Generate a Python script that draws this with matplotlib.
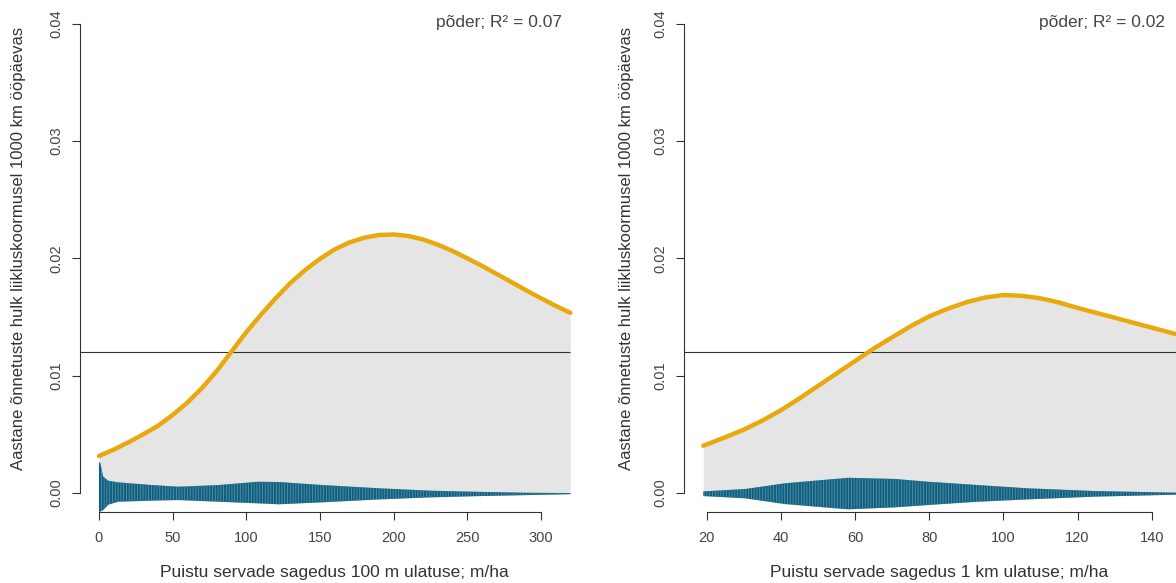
import numpy as np
import matplotlib
matplotlib.use("Agg")
import matplotlib.pyplot as plt

plt.rcParams['font.family'] = ['Liberation Sans', 'DejaVu Sans']
plt.rcParams['hatch.linewidth'] = 0.6

# --- data ---
# left panel: 100 m buffer
x_curve_a = [0, 10, 20, 30, 40, 50, 60, 70, 80, 90, 100, 110, 120, 130, 140,
             150, 160, 170, 180, 190, 200, 210, 220, 230, 240, 250, 260, 270,
             280, 290, 300, 310, 320]
y_curve_a = [0.00315, 0.00370, 0.00432, 0.00500, 0.00572, 0.00665, 0.00770,
             0.00895, 0.01040, 0.01205, 0.01370, 0.01520, 0.01660, 0.01790,
             0.01900, 0.01995, 0.02075, 0.02135, 0.02175, 0.02198, 0.02203,
             0.02190, 0.02160, 0.02116, 0.02062, 0.02000, 0.01935, 0.01866,
             0.01797, 0.01727, 0.01660, 0.01595, 0.01535]
x_band_a = [0, 0.8, 2.9, 6.3, 13, 36, 54, 81, 108, 122, 152, 191, 225, 259,
            293, 320]
hi_band_a = [0.0026, 0.0026, 0.0014, 0.00105, 0.00091, 0.00068, 0.00054,
             0.00068, 0.00096, 0.00094, 0.00068, 0.0004, 0.0002, 0.0001,
             0.00002, 0.0]
lo_band_a = [-0.0016, -0.0016, -0.00145, -0.0010, -0.00074, -0.00065,
             -0.0006, -0.00074, -0.00088, -0.00096, -0.00079, -0.00054,
             -0.00037, -0.00026, -0.00017, -0.0001]

# right panel: 1 km buffer
x_curve_b = [19.1, 25, 30, 35, 40, 45, 50, 55, 60, 65, 70, 75, 80, 85, 90,
             95, 100, 105, 110, 115, 120, 125, 130, 135, 140, 145, 147]
y_curve_b = [0.00403, 0.00475, 0.00540, 0.00617, 0.00705, 0.00805, 0.00912,
             0.01018, 0.01124, 0.01230, 0.01326, 0.01421, 0.01505, 0.01570,
             0.01625, 0.01665, 0.01687, 0.01680, 0.01659, 0.01623, 0.01577,
             0.01535, 0.01494, 0.01451, 0.01409, 0.01367, 0.01350]
x_band_b = [19.1, 30.3, 41.1, 58.2, 70.8, 79.8, 93.2, 106.7, 124.7, 147]
hi_band_b = [0.00014, 0.00034, 0.00083, 0.0013, 0.0012, 0.00096, 0.00068,
             0.0004, 0.00017, 0.00003]
lo_band_b = [-0.00026, -0.00045, -0.00094, -0.00139, -0.00122, -0.00102,
             -0.00074, -0.00054, -0.00031, -0.00014]

ref_level = 0.012
r2_labels = ['põder; R² = 0.07', 'põder; R² = 0.02']
xlabels = ['Puistu servade sagedus 100 m ulatuse; m/ha',
           'Puistu servade sagedus 1 km ulatuse; m/ha']
ylabel = 'Aastane õnnetuste hulk liikluskoormusel 1000 km ööpäevas'
xticks_a = [0, 50, 100, 150, 200, 250, 300]
xticks_b = [20, 40, 60, 80, 100, 120, 140]
yticks = [0.00, 0.01, 0.02, 0.03, 0.04]

ORANGE = '#E9A90E'
BLUE = '#0D5F7F'
STRIPE = '#5A90A6'
GRAY = '#E5E5E5'
INK = '#333333'

fig = plt.figure(figsize=(11.76, 5.83), dpi=100)
ax1 = fig.add_axes([80.1 / 1176, 0.1221, 509.1 / 1176, 0.8698])
ax2 = fig.add_axes([684.4 / 1176, 0.1221, 511.8 / 1176, 0.8698])

panels = [
    (ax1, x_curve_a, y_curve_a, x_band_a, hi_band_a, lo_band_a, xticks_a, (-12.8, 332.8)),
    (ax2, x_curve_b, y_curve_b, x_band_b, hi_band_b, lo_band_b, xticks_b, (14.0, 152.0)),
]

for ax, xc, yc, xb, hb, lb, xt, xl in panels:
    ax.fill_between(xc, 0, yc, color=GRAY, lw=0, zorder=1)
    ax.fill_between(xb, lb, hb, facecolor=BLUE, edgecolor=STRIPE,
                    hatch='|' * 6, lw=0, zorder=2)
    ax.hlines(ref_level, xl[0], max(xc), color='#333333', lw=0.8, zorder=3)
    ax.plot(xc, yc, color=ORANGE, lw=3.2, solid_capstyle='round',
            solid_joinstyle='round', zorder=4)
    ax.set_xlim(*xl)
    ax.set_ylim(-0.0016, 0.0416)
    ax.set_xticks(xt)
    ax.set_yticks(yticks)
    ax.set_yticklabels([f'{v:.2f}' for v in yticks], rotation=90, va='center')
    for s in ['top', 'right']:
        ax.spines[s].set_visible(False)
    ax.spines['left'].set_bounds(0, 0.04)
    ax.spines['bottom'].set_bounds(xt[0], xt[-1])
    for s in ['left', 'bottom']:
        ax.spines[s].set_color(INK)
        ax.spines[s].set_linewidth(0.8)
    ax.tick_params(axis='both', direction='out', length=6, width=0.8,
                   color=INK, labelcolor='#444444', labelsize=10.5)
    ax.tick_params(axis='x', pad=8)
    ax.tick_params(axis='y', pad=6)
    ax.set_facecolor('none')

# texts placed like the R output
fig.text(334 / 1176, 1 - 573 / 583, xlabels[0], ha='center', va='center',
         fontsize=12.5, color=INK)
fig.text(939 / 1176, 1 - 573 / 583, xlabels[1], ha='center', va='center',
         fontsize=12.5, color=INK)
fig.text(19 / 1176, 1 - 248 / 583, ylabel, rotation=90, ha='center',
         va='center', fontsize=12.0, color=INK)
fig.text(626 / 1176, 1 - 248 / 583, ylabel, rotation=90, ha='center',
         va='center', fontsize=12.0, color=INK)
fig.text(562 / 1176, 1 - 22 / 583, r2_labels[0], ha='right', va='center',
         fontsize=12.5, color='#444444')
fig.text(1165 / 1176, 1 - 22 / 583, r2_labels[1], ha='right', va='center',
         fontsize=12.5, color='#444444')

fig.savefig('out.png', dpi=100)
